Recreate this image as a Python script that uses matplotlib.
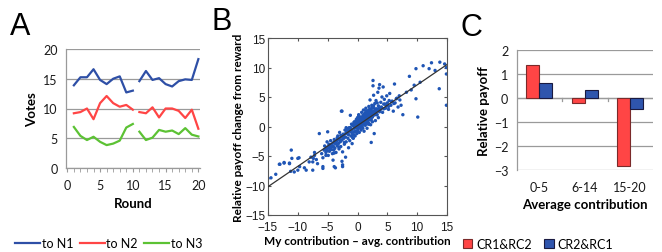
import numpy as np
import matplotlib
matplotlib.use("Agg")
import matplotlib.pyplot as plt
from matplotlib.lines import Line2D
from matplotlib.patches import Patch

# ---------------- data ----------------
rounds_a = [1, 2, 3, 4, 5, 6, 7, 8, 9, 10]
rounds_b = [11, 12, 13, 14, 15, 16, 17, 18, 19, 20]
n1_a = [13.9, 15.25, 15.25, 16.6, 14.8, 14.1, 15.0, 15.4, 12.7, 13.0]
n1_b = [14.6, 16.3, 14.8, 15.1, 14.1, 13.7, 14.6, 14.9, 14.8, 18.3]
n2_a = [9.2, 9.4, 10.0, 8.2, 10.9, 12.1, 10.9, 10.3, 10.6, 9.8]
n2_b = [9.4, 9.2, 10.2, 8.5, 10.0, 10.0, 9.6, 8.4, 9.8, 6.6]
n3_a = [6.9, 5.4, 4.7, 5.25, 4.4, 3.85, 4.1, 4.6, 6.8, 7.4]
n3_b = [6.1, 4.7, 5.1, 6.4, 6.1, 6.3, 5.7, 6.7, 5.6, 5.3]
series_names = ["to N1", "to N2", "to N3"]

scatter_x = [
    -15.0, -14.5, -13.7, -13.1, -13.0, -12.3, -12.3, -11.4, -11.4, -11.1, -11.0, -11.2, -10.6,
    -10.0, -10.0, -9.8, -9.7, -8.9, -8.6, -8.1, -7.8, -7.5, -7.5, -7.4, -7.2, -7.2, -6.9, -6.7,
    -6.4, -5.8, -5.8, -5.3, -5.0, -4.7, -4.1, -3.9, -3.7, -2.7, -2.6, -2.6, -2.5, -2.5, -1.2,
    -6.0, -5.8, -5.6, -5.5, -5.3, -5.2, -5.1, -5.0, -4.9, -4.8, -4.7, -4.6, -4.5, -4.4, -4.3,
    -4.2, -4.1, -4.0, -4.0, -3.9, -3.8, -3.7, -3.6, -3.5, -3.4, -3.3, -3.2, -3.1, -3.0, -3.0,
    -2.9, -2.8, -2.7, -2.6, -2.5, -2.4, -2.3, -2.2, -2.1, -2.0, -2.0, -1.9, -1.8, -1.7, -1.6,
    -1.5, -1.5, -1.4, -1.3, -1.2, -1.1, -1.0, -1.0, -0.9, -0.9, -0.8, -0.7, -0.7, -0.6, -0.5,
    -0.5, -0.4, -0.3, -0.3, -0.2, -0.2, -0.1, -0.1, 0.0, 0.0, 0.0, 0.1, 0.1, 0.2, 0.2, 0.3,
    0.3, 0.4, 0.4, 0.5, 0.5, 0.6, 0.6, 0.7, 0.7, 0.8, 0.8, 0.9, 0.9, 1.0, 1.0, 1.1, 1.1, 1.2,
    1.2, 1.3, 1.3, 1.4, 1.4, 1.5, 1.5, 1.6, 1.6, 1.7, 1.7, 1.8, 1.8, 1.9, 1.9, 2.0, 2.0, 2.1,
    2.1, 2.2, 2.2, 2.3, 2.3, 2.4, 2.4, 2.5, 2.5, 2.6, 2.6, 2.6, 2.7, 2.7, 2.8, 2.8, 2.9, 3.0,
    3.0, 3.1, 3.2, 3.3, 3.4, 3.5, 3.5, 3.6, 3.7, 3.8, 3.9, 4.0, 4.1, 4.2, 4.3, 4.4, 4.5, 4.7,
    4.9, 5.0, 5.2, 5.4, 5.6, 5.8, 6.0, 6.2, 6.3, 6.5, 6.8, 7.0, 7.3, 7.6, 8.2, 8.7, 9.0, 9.5,
    9.8, 9.8, 10.1, 10.5, 11.0, 12.0, 12.4, 13.0, 13.7, 13.8, 14.6, 14.9, 14.9, 14.9,
    -3.4, -2.8, -2.2, -1.6, -1.3, -0.8, -0.6, -0.2, 0.3, 0.6, 0.9, 1.2, 1.5, 1.8, 2.2, 2.5,
    2.9, 3.2, 3.6, -4.6, -3.9, -3.1, -1.9, -0.4, 0.4, 1.3, 2.0, 2.7, 3.3, 4.6, 5.3,
    -5.4, -5.0, -4.6, -4.3, -3.9, -3.6, -3.3, -2.9, -2.6, -2.3, -2.0, -1.7, -1.4, -1.1, -0.8,
    -0.5, -0.2, 0.1, 0.4, 0.7, 1.0, 1.3, 1.6, 1.9, 2.2, 2.5, 2.8, 3.1, 3.4, 3.7, 4.0, 4.4,
    4.8, 5.2, 5.7, 6.1, 6.6, 7.1, -0.6, -0.1, 0.5, 1.1, 1.7, 2.3, 0.2, 0.8, 1.4, 2.0, 2.6,
    -1.4, -0.9, -0.3, 0.3, 0.9, 1.5, 2.1, -2.4, -1.8, -1.2, -0.6, 0.0, 0.6, 1.2, 1.8, 2.4,
]
scatter_y = [
    -8.8, -8.7, -8.1, -6.4, -6.4, -6.1, -6.2, -6.2, -6.3, -4.0, -5.4, -7.6, -7.7,
    -5.4, -7.4, -5.3, -6.8, -7.0, -7.4, -6.0, -5.2, -6.0, -7.4, -5.4, -4.4, -4.9, -5.6, -6.3,
    -1.2, -7.1, -6.8, -4.9, -0.9, -3.7, -5.7, -6.8, -7.0, 2.6, 2.6, -5.9, -6.5, -6.8, 1.9,
    -4.6, -5.3, -4.0, -3.3, -4.4, -3.8, -2.6, -3.5, -4.9, -3.0, -4.2, -3.6, -2.4, -3.9, -3.1,
    -4.6, -2.8, -3.4, -4.0, -2.2, -3.7, -2.9, -4.4, -2.5, -3.3, -1.6, -2.9, -3.8, -2.1, -1.0,
    -2.6, -3.4, -1.7, -2.3, -4.3, -1.3, -2.0, -3.0, -0.6, -1.8, -5.2, -2.6, -1.1, -0.4, -2.0,
    -3.6, -1.4, -0.8, -2.4, -0.2, -1.6, -1.0, 0.4, -2.9, -0.5, -1.4, 0.2, -2.0, -0.9, 0.8,
    -0.3, -1.6, 0.3, -0.9, 1.2, -0.2, -1.2, 0.6, 0.0, 1.5, -0.7, 0.9, -0.4, 0.2, 2.0, -1.0,
    1.1, 0.5, -0.2, 1.6, 0.8, -0.6, 0.3, 1.3, 2.4, 0.7, -0.1, 1.9, 1.0, 0.4, 2.8, 1.4, -0.8,
    0.9, 2.1, 1.7, 0.2, 1.2, 3.1, 0.6, 2.3, 1.5, -0.3, 2.0, 0.9, 2.7, 1.3, 0.5, 3.4, 1.8, 2.4,
    1.1, 4.5, 2.2, 0.3, 2.9, -2.7, 1.6, 3.6, 2.5, 0.8, 7.8, 6.9, 3.2, 1.9, 5.3, 2.6, -1.2, 3.9,
    2.2, 1.0, 4.4, 3.0, 2.0, 5.8, 3.5, 1.5, 6.5, 7.1, 2.8, 4.1, 3.3, 5.0, 2.4, 6.7, 3.8, 4.6,
    3.1, 5.2, 4.0, 2.9, 5.6, 3.6, 4.3, 2.6, 7.2, 4.0, 4.7, 3.3, 5.2, 3.6, 2.0, 5.8, 8.5, 6.2,
    7.0, 9.8, 4.7, 1.6, 7.5, 10.3, 9.8, 10.8, 9.5, 6.4, 10.9, 10.6, 10.0, 8.9, 3.6,
    -1.9, -1.5, -2.7, -1.2, -0.5, -1.9, 0.0, 0.9, 0.0, 1.0, -0.3, 1.6, 2.6, 1.7, 2.7, 1.9,
    3.0, 2.6, 3.1, -3.1, -4.5, -3.5, -0.2, 0.1, 1.3, 0.5, 0.4, 3.5, 4.0, 3.8, 4.4,
    -3.9, -4.1, -3.2, -3.5, -2.7, -2.9, -2.2, -2.5, -1.8, -1.6, -1.2, -0.9, -0.7, -0.4, 0.2,
    0.1, 0.5, 0.3, 1.0, 0.6, 1.3, 0.9, 1.7, 1.4, 1.9, 1.6, 2.4, 2.0, 2.8, 2.5, 3.2, 3.0,
    3.6, 3.4, 4.2, 3.9, 4.8, 4.5, 0.7, 1.1, 0.2, 0.6, 2.3, 1.2, 1.8, 1.5, 2.6, 2.9, 2.1,
    -0.2, 0.3, -0.8, 0.9, 0.4, 2.0, 1.4, -1.6, -0.9, -0.3, -1.4, 0.5, 1.2, 2.2, 0.4, 3.2,
]
fit_slope = 0.69
fit_intercept = 0.15
fit_x = [-15, 15]

categories_c = ["0-5", "6-14", "15-20"]
cr1_rc2 = [1.35, -0.2, -2.85]
cr2_rc1 = [0.6, 0.33, -0.48]
bar_names = ["CR1&RC2", "CR2&RC1"]

# ---------------- figure ----------------
W, H = 662, 253
fig = plt.figure(figsize=(W / 100, H / 100), dpi=100)
FONT = "Lato"
plt.rcParams["font.family"] = [FONT, "DejaVu Sans"]

def ax_px(l, t, r, b):
    return fig.add_axes([l / W, 1 - b / H, (r - l) / W, (b - t) / H])

blue = "#2e4fa6"
red = "#ff4545"
green = "#5cc234"
grid_c = "#9a9a9a"
txt_c = "#1a1a1a"

# ---- Panel A ----
axA = ax_px(66, 50, 200, 169)
axA.plot(rounds_a, n1_a, color=blue, lw=1.6)
axA.plot(rounds_b, n1_b, color=blue, lw=1.6)
axA.plot(rounds_a, n2_a, color=red, lw=1.6)
axA.plot(rounds_b, n2_b, color=red, lw=1.6)
axA.plot(rounds_a, n3_a, color=green, lw=1.6)
axA.plot(rounds_b, n3_b, color=green, lw=1.6)
axA.set_xlim(-0.2, 20.25)
axA.set_ylim(0, 20)
axA.set_yticks([0, 5, 10, 15, 20])
axA.set_xticks([0, 5, 10, 15, 20])
axA.set_xticks(np.arange(0, 21, 1), minor=True)
axA.yaxis.grid(True, color=grid_c, lw=0.9)
axA.set_axisbelow(True)
for s in ["top", "right"]:
    axA.spines[s].set_visible(False)
for s in ["left", "bottom"]:
    axA.spines[s].set_color(grid_c)
    axA.spines[s].set_linewidth(0.9)
axA.tick_params(axis="y", length=0, labelsize=9, pad=6, colors=txt_c)
axA.tick_params(axis="x", which="both", length=3, direction="out", color=grid_c,
                labelsize=9, pad=5, labelcolor=txt_c)
axA.set_ylabel("Votes", fontsize=9.5, fontweight="bold", labelpad=4)
axA.set_xlabel("Round", fontsize=9.5, fontweight="bold", labelpad=4)
handlesA = [Line2D([], [], color=c, lw=1.6) for c in (blue, red, green)]
fig.legend(handlesA, series_names, loc="center left", bbox_to_anchor=(15 / W, 1 - 244 / H),
           ncol=3, frameon=False, fontsize=9, handlelength=2.0, handletextpad=0.15,
           columnspacing=0.5, borderaxespad=0, borderpad=0)

# ---- Panel B ----
axB = ax_px(268, 39, 447, 216)
axB.scatter(scatter_x, scatter_y, s=6, color="#1f55b5", edgecolors="none", zorder=2)
fx = np.array(fit_x, dtype=float)
axB.plot(fx, fit_slope * fx + fit_intercept, color="#333333", lw=0.9, zorder=3)
axB.set_xlim(-15, 15)
axB.set_ylim(-15, 15)
axB.set_xticks([-15, -10, -5, 0, 5, 10, 15])
axB.set_yticks([-15, -10, -5, 0, 5, 10, 15])
for s in axB.spines.values():
    s.set_color("#555555")
    s.set_linewidth(0.8)
axB.tick_params(direction="in", length=2.5, top=True, right=True, labelsize=8.5,
                color="#555555", labelcolor=txt_c, pad=2)
axB.tick_params(axis="x", pad=4)
for lab in axB.get_xticklabels() + axB.get_yticklabels():
    lab.set_family(["Liberation Sans", "DejaVu Sans"])
axB.set_xlabel("My contribution \u2013 avg. contribution", fontsize=8.5, fontweight="bold",
               labelpad=2)
axB.set_ylabel("Relative payoff change from reward", fontsize=8.5, fontweight="bold",
               labelpad=1)

# ---- Panel C ----
axC = ax_px(516.5, 50.7, 653, 170.7)
xc = np.arange(len(categories_c))
bw = 0.29
axC.bar(xc - bw / 2, cr1_rc2, bw, color=red, edgecolor="#7a2a2a", lw=0.8, zorder=3)
axC.bar(xc + bw / 2, cr2_rc1, bw, color="#2f55ad", edgecolor="#1a1a40", lw=0.8, zorder=3)
axC.set_xlim(-0.5, 2.5)
axC.set_ylim(-3, 2)
axC.set_yticks([-3, -2, -1, 0, 1, 2])
axC.yaxis.grid(True, color=grid_c, lw=0.9)
axC.set_axisbelow(True)
for s in ["top", "right", "bottom"]:
    axC.spines[s].set_visible(False)
axC.spines["left"].set_color(grid_c)
axC.spines["left"].set_linewidth(0.9)
axC.axhline(0, color=grid_c, lw=0.9, zorder=2)
for b in [0.5, 1.5]:
    axC.plot([b, b], [0, -0.12], color=grid_c, lw=0.9, zorder=2)
axC.set_xticks(xc)
axC.set_xticklabels(categories_c)
axC.tick_params(axis="x", length=0, labelsize=9, pad=8, labelcolor=txt_c)
axC.tick_params(axis="y", length=0, labelsize=9, pad=6, labelcolor=txt_c)
axC.set_xlabel("Average contribution", fontsize=9.5, fontweight="bold", labelpad=4)
axC.set_ylabel("Relative payoff", fontsize=9.5, fontweight="bold", labelpad=3)
handlesC = [Patch(facecolor=red, edgecolor="#7a2a2a", lw=0.8),
            Patch(facecolor="#2f55ad", edgecolor="#1a1a40", lw=0.8)]
fig.legend(handlesC, bar_names, loc="center left", bbox_to_anchor=(463 / W, 1 - 245 / H),
           ncol=2, frameon=False, fontsize=9, handlelength=0.75, handleheight=0.75,
           handletextpad=0.3, columnspacing=1.0, borderaxespad=0, borderpad=0)

# ---- panel letters ----
for letter, x, y in [("A", 10, 27), ("B", 211, 22), ("C", 461, 28)]:
    fig.text(x / W, 1 - y / H, letter, fontsize=22, va="center", ha="left",
             family=["Liberation Sans", "DejaVu Sans"])

fig.savefig("out.png", dpi=100)
